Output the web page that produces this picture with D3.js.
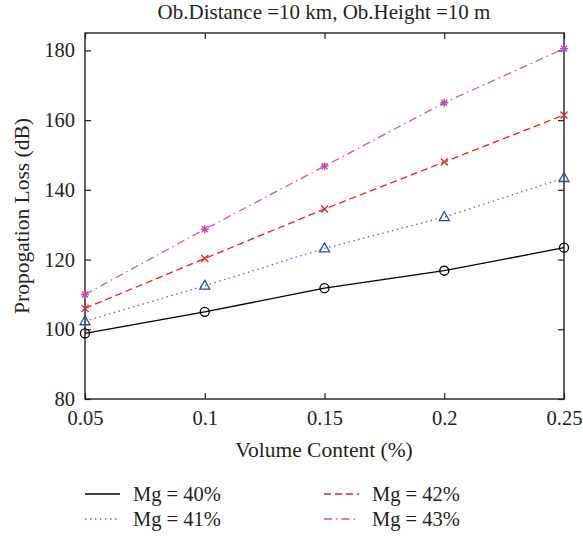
<!DOCTYPE html>
<html>
<head>
<meta charset="utf-8">
<script src="https://cdn.jsdelivr.net/npm/d3@7"></script>
<style>
  body { margin: 0; background: #fff; }
  text { font-family: "Liberation Serif", "DejaVu Serif", serif; fill: #231f20; }
</style>
</head>
<body>
<div id="chart"></div>
<script>
const volume = [0.05, 0.1, 0.15, 0.2, 0.25];
const mg40 = [98.8, 105.0, 111.8, 116.8, 123.4];
const mg41 = [102.3, 112.5, 123.2, 132.2, 143.4];
const mg42 = [106.0, 120.3, 134.5, 148.0, 161.5];
const mg43 = [110.0, 128.7, 146.8, 165.0, 180.5];
const seriesNames = ["Mg = 40%", "Mg = 41%", "Mg = 42%", "Mg = 43%"];
const xTicks = [0.05, 0.1, 0.15, 0.2, 0.25];
const yTicks = [80, 100, 120, 140, 160, 180];

const W = 583, H = 538;
const mLeft = 85, mRight = 564, mTop = 33, mBottom = 399;

const series = [
  {name: seriesNames[0], values: mg40, color: "#000000", marker: "#000000", dash: null, shape: "circle"},
  {name: seriesNames[1], values: mg41, color: "#4a6fd0", marker: "#2d4b9e", dash: "1.5,3.5", shape: "triangle"},
  {name: seriesNames[2], values: mg42, color: "#f01c24", marker: "#f01c24", dash: "7,4", shape: "x"},
  {name: seriesNames[3], values: mg43, color: "#c25bb8", marker: "#c04db0", dash: "8,4,1.5,4", shape: "star"}
];

const svg = d3.select("#chart").append("svg")
  .attr("width", W).attr("height", H);

const x = d3.scaleLinear().domain([0.05, 0.25]).range([mLeft, mRight]);
const y = d3.scaleLinear().domain([80, 185]).range([mBottom, mTop]);

const fmt = d => String(d);

// axes, ticks pointing inward on all four sides
svg.append("g").attr("transform", `translate(0,${mBottom})`)
  .call(d3.axisBottom(x).tickValues(xTicks).tickFormat(fmt).tickSizeInner(-6).tickSizeOuter(0).tickPadding(11));
svg.append("g").attr("transform", `translate(0,${mTop})`)
  .call(d3.axisTop(x).tickValues(xTicks).tickFormat("").tickSizeInner(-6).tickSizeOuter(0));
svg.append("g").attr("transform", `translate(${mLeft},0)`)
  .call(d3.axisLeft(y).tickValues(yTicks).tickFormat(fmt).tickSizeInner(-6).tickSizeOuter(0).tickPadding(10));
svg.append("g").attr("transform", `translate(${mRight},0)`)
  .call(d3.axisRight(y).tickValues(yTicks).tickFormat("").tickSizeInner(-6).tickSizeOuter(0));

svg.selectAll(".domain").remove();
svg.selectAll(".tick line").attr("stroke", "#231f20").attr("stroke-width", 1.2);
svg.selectAll(".tick text").style("font-size", "20.5px").style("font-family", "Liberation Serif, serif").attr("fill", "#231f20");

svg.append("rect")
  .attr("x", mLeft).attr("y", mTop)
  .attr("width", mRight - mLeft).attr("height", mBottom - mTop)
  .attr("fill", "none").attr("stroke", "#231f20").attr("stroke-width", 1.4);

// lines
const line = d3.line().x((d, i) => x(volume[i])).y(d => y(d));
series.forEach(s => {
  svg.append("path")
    .datum(s.values)
    .attr("d", line)
    .attr("fill", "none")
    .attr("stroke", s.color)
    .attr("stroke-width", 1.3)
    .attr("stroke-dasharray", s.dash);
});

// markers
function drawMarker(g, shape, color) {
  if (shape === "circle") {
    g.append("circle").attr("r", 4.5).attr("fill", "none").attr("stroke", color).attr("stroke-width", 1.3);
  } else if (shape === "triangle") {
    g.append("path").attr("d", "M0,-5.5L5,3.5L-5,3.5Z").attr("fill", "none").attr("stroke", color).attr("stroke-width", 1.3);
  } else if (shape === "x") {
    g.append("path").attr("d", "M-3.5,-3.5L3.5,3.5M-3.5,3.5L3.5,-3.5").attr("stroke", color).attr("stroke-width", 1.4);
  } else {
    g.append("path").attr("d", "M-4,0L4,0M0,-4L0,4M-3,-3L3,3M-3,3L3,-3").attr("stroke", color).attr("stroke-width", 1.4);
  }
}
series.forEach(s => {
  s.values.forEach((v, i) => {
    const g = svg.append("g").attr("transform", `translate(${x(volume[i])},${y(v)})`);
    drawMarker(g, s.shape, s.marker);
  });
});

// title and axis labels
svg.append("text")
  .text("Ob.Distance =10 km, Ob.Height =10 m")
  .attr("x", 324).attr("y", 19)
  .attr("text-anchor", "middle")
  .style("font-size", "21px");

svg.append("text")
  .text("Volume Content (%)")
  .attr("x", 324).attr("y", 457)
  .attr("text-anchor", "middle")
  .style("font-size", "21.5px");

svg.append("text")
  .text("Propogation Loss (dB)")
  .attr("transform", `translate(29,${(mTop + mBottom) / 2}) rotate(-90)`)
  .attr("text-anchor", "middle")
  .style("font-size", "21.5px");

// legend, two columns
const legendPos = [[85, 494], [85, 519], [324, 494], [324, 519]];
series.forEach((s, i) => {
  const [lx, ly] = legendPos[i];
  svg.append("line")
    .attr("x1", lx).attr("x2", lx + 35)
    .attr("y1", ly).attr("y2", ly)
    .attr("stroke", s.color).attr("stroke-width", 1.3)
    .attr("stroke-dasharray", s.dash);
  svg.append("text")
    .text(s.name)
    .attr("x", lx + 48).attr("y", ly + 7)
    .style("font-size", "20.5px");
});
</script>
</body>
</html>
